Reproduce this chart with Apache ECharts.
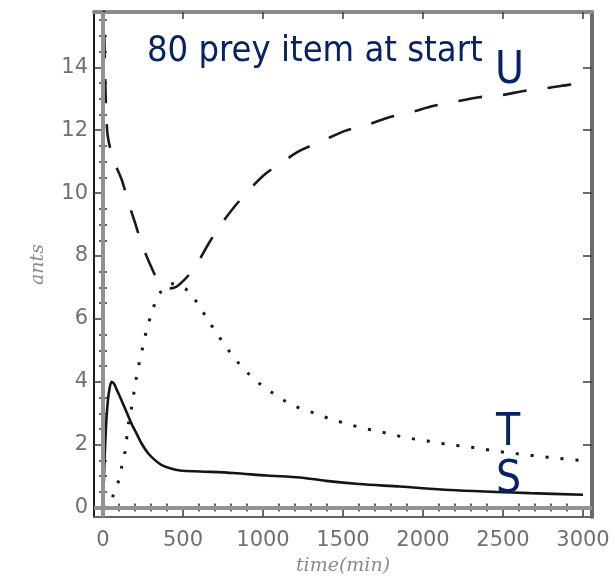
<!DOCTYPE html>
<html>
<head>
<meta charset="utf-8">
<script src="https://cdn.jsdelivr.net/npm/echarts@6/dist/echarts.min.js"></script>
<style>html,body{margin:0;padding:0;background:#fff}#c{width:615px;height:581px}</style>
</head>
<body>
<div id="c"></div>
<script>
// time (min)
const xMajor = [0, 500, 1000, 1500, 2000, 2500, 3000];
const xMinor = [100,200,300,400,600,700,800,900,1100,1200,1300,1400,1600,1700,1800,1900,2100,2200,2300,2400,2600,2700,2800,2900];
const yMajor = [0, 2, 4, 6, 8, 10, 12, 14];
const yMinor = [0.5,1,1.5,2.5,3,3.5,4.5,5,5.5,6.5,7,7.5,8.5,9,9.5,10.5,11,11.5,12.5,13,13.5,14.5,15,15.5];

// S: solid curve
const sTime = [0,5,10,18,27,38,54,70,85,117,148,179,210,242,283,325,367,419,481,606,815,1023,1231,1394,1600,1856,2169,2450,2669,3000];
const sAnts = [0,0.8,1.6,2.5,3.2,3.7,4.0,3.93,3.76,3.4,3.03,2.66,2.35,2.03,1.72,1.51,1.35,1.25,1.18,1.15,1.1,1.02,0.96,0.85,0.75,0.67,0.56,0.5,0.46,0.41];

// T: dotted curve
const tTime = [0,30,61,96,117,137,160,179,194,210,227,248,269,294,325,360,400,440,480,527,585,637,690,738,794,852,919,992,1065,1148,1235,1325,1419,1508,1600,1696,1788,1881,1971,2065,2164,2258,2352,2450,2544,2637,2731,2825,2919,3000];
const tAnts = [0,0.05,0.36,0.83,1.3,1.77,2.7,3.19,3.68,4.18,4.62,5.09,5.57,6.02,6.5,6.85,7.05,7.12,7.05,6.91,6.54,6.12,5.7,5.34,4.94,4.57,4.21,3.89,3.63,3.36,3.15,3.0,2.82,2.69,2.56,2.45,2.35,2.24,2.16,2.09,2.0,1.95,1.88,1.8,1.74,1.68,1.63,1.58,1.53,1.5];

// U: dashed curve
const uTime = [0,6,12,20,30,62,90,119,156,200,244,294,340,380,420,460,500,545,587,656,731,825,906,1012,1125,1231,1375,1512,1656,1794,1931,2062,2212,2350,2494,2631,2775,2919,3000];
const uAnts = [30,16,14,12.6,11.8,11.1,10.75,10.4,9.75,9.06,8.36,7.74,7.25,7.02,6.97,7.03,7.2,7.45,7.74,8.36,8.96,9.59,10.06,10.6,11.0,11.35,11.67,11.98,12.18,12.42,12.58,12.77,12.92,13.05,13.12,13.25,13.34,13.45,13.5];

const XMIN = -56.25, XMAX = 3056.25;
const YMIN = -0.2985, YMAX = 15.76;

const zip = (a, b) => a.map((v, i) => [v, b[i]]);

const tickLabelStyle = { fontFamily: 'DejaVu Sans', fontSize: 21, color: '#707070', formatter: v => String(v) };
const nameStyle = { fontFamily: 'DejaVu Serif', fontStyle: 'italic', fontSize: 19, color: '#8a8a8a' };

function xAx(pos, major, opts) {
  return Object.assign({
    type: 'value', position: pos, min: XMIN, max: XMAX,
    splitLine: { show: false },
    axisLine: { show: false },
    axisTick: { show: true, inside: true, length: major ? 7 : 4, customValues: major ? xMajor : xMinor,
      lineStyle: { color: '#444', width: 1.6 } },
    axisLabel: { show: false }
  }, opts || {});
}
function yAx(pos, major, opts) {
  return Object.assign({
    type: 'value', position: pos, min: YMIN, max: YMAX,
    splitLine: { show: false },
    axisLine: { show: false },
    axisTick: { show: true, inside: true, length: major ? 9 : 4, customValues: major ? yMajor : yMinor,
      lineStyle: { color: '#444', width: 1.6 } },
    axisLabel: { show: false }
  }, opts || {});
}

const chart = echarts.init(document.getElementById('c'), null, { renderer: 'canvas' });
chart.setOption({
  animation: false,
  backgroundColor: '#fff',
  grid: { left: 94, top: 12, width: 498, height: 511 },
  xAxis: [
    xAx('bottom', true, {
      axisLine: { show: true, onZero: false, lineStyle: { color: '#666', width: 2 } },
      axisLabel: Object.assign({ show: true, margin: 13, customValues: xMajor }, tickLabelStyle),
      name: 'time(min)', nameLocation: 'middle', nameGap: 40, nameTextStyle: nameStyle
    }),
    xAx('bottom', false),
    xAx('top', true, { axisLine: { show: true, onZero: false, lineStyle: { color: '#8a8a8a', width: 4 } } }),
    xAx('top', false)
  ],
  yAxis: [
    yAx('left', true, {
      axisLine: { show: true, onZero: false, lineStyle: { color: '#1e1e1e', width: 2 } },
      axisLabel: Object.assign({ show: true, margin: 6, customValues: yMajor }, tickLabelStyle),
      name: 'ants', nameLocation: 'middle', nameGap: 46, nameRotate: 90, nameTextStyle: nameStyle
    }),
    yAx('left', false),
    yAx('right', true, { axisLine: { show: true, onZero: false, lineStyle: { color: '#6a6a6a', width: 4 } } }),
    yAx('right', false)
  ],
  series: [
    {
      type: 'line', data: [], xAxisIndex: 0, yAxisIndex: 0, z: 1, silent: true,
      markLine: {
        silent: true, symbol: ['none', 'none'], label: { show: false },
        lineStyle: { color: '#929292', width: 4, type: 'solid' },
        data: [{ xAxis: 0 }, { yAxis: 0 }]
      }
    },
    {
      name: 'S', type: 'line', data: zip(sTime, sAnts), xAxisIndex: 0, yAxisIndex: 0, z: 3,
      smooth: 0.3, showSymbol: false, clip: true,
      lineStyle: { color: '#151515', width: 2.6 }
    },
    {
      name: 'T', type: 'line', data: zip(tTime, tAnts), xAxisIndex: 0, yAxisIndex: 0, z: 3,
      smooth: 0.3, showSymbol: false, clip: true,
      lineStyle: { color: '#1a1a1a', width: 3, type: [3, 12], cap: 'butt' }
    },
    {
      name: 'U', type: 'line', data: zip(uTime, uAnts), xAxisIndex: 0, yAxisIndex: 0, z: 3,
      smooth: 0.3, showSymbol: false, clip: true,
      lineStyle: { color: '#1a1a1a', width: 2.6, type: [24, 21], dashOffset: 25, cap: 'butt' }
    }
  ],
  graphic: [
    { type: 'text', left: 147, top: 34, z: 10, style: { text: '80 prey item at start', fill: '#06226b', fontFamily: 'DejaVu Sans Condensed', fontSize: 36 } },
    { type: 'text', left: 495, top: 50, z: 10, style: { text: 'U', fill: '#06226b', fontFamily: 'DejaVu Sans Condensed', fontSize: 44 } },
    { type: 'text', left: 496, top: 412, z: 10, style: { text: 'T', fill: '#06226b', fontFamily: 'DejaVu Sans Condensed', fontSize: 44 } },
    { type: 'text', left: 496, top: 459, z: 10, style: { text: 'S', fill: '#06226b', fontFamily: 'DejaVu Sans Condensed', fontSize: 44 } }
  ]
});
</script>
</body>
</html>
